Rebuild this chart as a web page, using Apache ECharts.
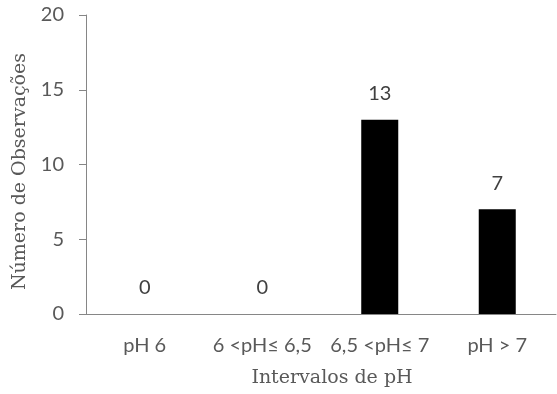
<!DOCTYPE html>
<html>
<head>
<meta charset="utf-8">
<script src="https://cdn.jsdelivr.net/npm/echarts@6/dist/echarts.min.js"></script>
<style>html,body{margin:0;padding:0;background:#fff;}#c{width:557px;height:394px;}</style>
</head>
<body>
<div id="c"></div>
<script>
const categories = ['pH 6', '6 <pH\u2264 6,5', '6,5 <pH\u2264 7', 'pH > 7'];
const counts = [0, 0, 13, 7];
const yTicks = [0, 5, 10, 15, 20];

const chart = echarts.init(document.getElementById('c'));
chart.setOption({
  animation: false,
  backgroundColor: '#fff',
  grid: { left: 86, right: 1, top: 15, bottom: 80, containLabel: false },
  xAxis: {
    type: 'category',
    data: categories,
    name: 'Intervalos de pH',
    nameLocation: 'middle',
    nameGap: 55,
    nameTextStyle: { fontFamily: 'DejaVu Serif', fontSize: 19, color: '#595959', padding: [0, 0, 0, 22] },
    axisLine: { lineStyle: { color: '#868686', width: 1 } },
    axisTick: { show: false },
    axisLabel: { fontFamily: 'Lato', fontSize: 20, color: '#595959', margin: 22, interval: 0 }
  },
  yAxis: {
    type: 'value',
    min: yTicks[0],
    max: yTicks[yTicks.length - 1],
    interval: yTicks[1] - yTicks[0],
    name: 'Número de Observações',
    nameLocation: 'middle',
    nameGap: 46,
    nameTextStyle: { fontFamily: 'DejaVu Serif', fontSize: 19, color: '#595959', padding: [0, 14, 0, 0] },
    axisLine: { show: true, lineStyle: { color: '#868686', width: 1 } },
    axisTick: { show: true, length: 7, lineStyle: { color: '#868686' } },
    splitLine: { show: false },
    axisLabel: { fontFamily: 'Lato', fontSize: 20, color: '#595959', margin: 22 }
  },
  series: [{
    type: 'bar',
    data: counts,
    barWidth: '31.5%',
    itemStyle: { color: '#000' },
    label: { show: true, position: 'top', distance: 16, fontFamily: 'Lato', fontSize: 20, color: '#404040' }
  }]
});
</script>
</body>
</html>
